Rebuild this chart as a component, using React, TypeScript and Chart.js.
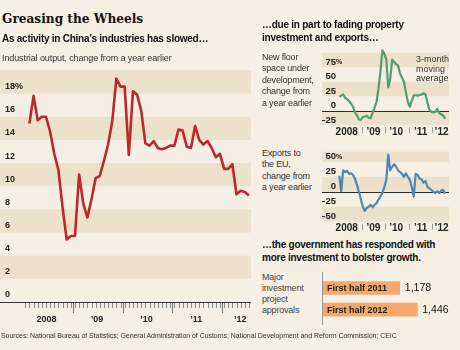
import React, { useEffect, useRef } from 'react';
import { Chart, registerables } from 'chart.js';

Chart.register(...registerables);

// ---------------- data ----------------
const yearLabels = ['2008', '\u201909', '\u201910', '\u201911', '\u201912'];
// month positions (months since Jan 2008) where the year labels sit
const leftYearAt = [5.6, 17.8, 29.8, 41.8, 52.4];
const rightYearAt = [4.3, 17.9, 29.5, 42, 52.7];
const yearBreaks = [12, 24, 36, 48];

// Industrial output, % change from a year earlier, Feb 2008 - Jul 2012
const outputFirstMonth = 1; // Feb 2008
const industrialOutput = [
  15.4, 17.8, 15.7, 16.0, 16.0, 14.7, 12.8, 11.4, 8.2, 5.4, 5.7,
  5.7, 11.0, 8.5, 7.3, 8.9, 10.7, 10.9, 12.2, 13.6, 15.6, 19.3, 18.6,
  18.6, 12.7, 18.2, 17.9, 16.5, 13.7, 13.5, 13.9, 13.3, 13.2, 13.3, 13.5,
  13.5, 14.9, 14.8, 13.4, 13.3, 15.2, 14.0, 13.6, 13.9, 13.3, 12.5, 12.8,
  11.5, 11.5, 11.9, 9.3, 9.6, 9.5, 9.2,
];
const outputTicks = [0, 2, 4, 6, 8, 10, 12, 14, 16, 18];
const outputBands = [[2, 4], [6, 8], [10, 12], [14, 16], [18, 20]];

// New floor space under development, 3-month moving average, Jan 2008 - Jul 2012
const floorSpace = [
  24, 26, 28, 22, 20, 17, 12, 7, -3, -8, -15, -16,
  -11, -10, -9, -12, -13, -4, 5, 15, 38, 67, 104, 98,
  88, 40, 55, 88, 84, 80, 78, 64, 57, 50, 32, 15,
  7, 17, 26, 27, 26, 27, 28, 30, 28, 14, 2, -2,
  -3, -2, 3, -4, -6, -8, -14,
];
const floorTicks = [-25, 0, 25, 50, 75];
const floorBands = [[-25, 0], [25, 50], [75, 100]];

// Exports to the EU, % change from a year earlier, Jan 2008 - Jul 2012
const euExports = [
  27, 1, 36, 33, 35, 30, 31, 28, 22, 12, 0, -12,
  -25, -32, -27, -25, -22, -26, -22, -19, -13, -8, -2, 8,
  20, 62, 36, 42, 46, 42, 36, 33, 30, 25, 31, 25,
  20, 8, -8, 30, 28, 22, 21, 15, 18, 8, 6, 3,
  0, -2, 1, -2, 2, 3, -3,
];
const euTicks = [-50, -25, 0, 25, 50];
const euBands = [[-50, -25], [0, 25], [50, 67]];

// Major investment project approvals
const projectLabels = ['First half 2011', 'First half 2012'];
const projectApprovals = [1178, 1446];

// ---------------- style ----------------
const NARROW = "'Liberation Sans Narrow', 'Arial Narrow', sans-serif";
const SERIF = "'DejaVu Serif Condensed', 'DejaVu Serif', serif";
const BG = '#f6f0e4';
const BAND = '#ece1ca';
const RED = '#c0262d';
const GREEN = '#579c6c';
const BLUE = '#4e86b4';
const ORANGE = '#f5a86b';
const INK = '#1e1e1e';

const fmt = (v: number) => (v < 0 ? '\u2013' + Math.abs(v) : String(v));

// ---------------- plugins ----------------
const bandsPlugin = {
  id: 'bands',
  beforeDraw(chart: any, _a: any, o: any) {
    if (!o || !o.ranges) return;
    const { ctx, chartArea } = chart;
    const y = chart.scales.y;
    const left = o.fromAxis ? y.left : chartArea.left;
    ctx.save();
    ctx.fillStyle = o.color;
    o.ranges.forEach((r: number[]) => {
      const top = y.getPixelForValue(r[1]);
      const bot = y.getPixelForValue(r[0]);
      ctx.fillRect(left, top, chartArea.right - left, bot - top);
    });
    ctx.restore();
  },
};

const timeAxisPlugin = {
  id: 'timeAxis',
  afterDraw(chart: any, _a: any, o: any) {
    if (!o || !o.labels) return;
    const { ctx, chartArea } = chart;
    const x = chart.scales.x;
    const b = chartArea.bottom;
    ctx.save();
    ctx.lineWidth = 1;
    if (o.axisColor) {
      ctx.strokeStyle = o.axisColor;
      ctx.beginPath();
      ctx.moveTo(chartArea.left, Math.round(b) + 0.5);
      ctx.lineTo(chartArea.right, Math.round(b) + 0.5);
      ctx.stroke();
    }
    const tick = (v: number, y0: number, y1: number, color: string) => {
      const px = Math.round(x.getPixelForValue(v)) + 0.5;
      ctx.strokeStyle = color;
      ctx.beginPath();
      ctx.moveTo(px, b + y0);
      ctx.lineTo(px, b + y1);
      ctx.stroke();
    };
    if (o.minorCount) {
      for (let m = 0; m < o.minorCount; m++) tick(m + 0.5, o.minorFrom, o.minorTo, o.minorColor);
    }
    (o.major || []).forEach((v: number) => tick(v, o.majorFrom, o.majorTo, o.majorColor));
    ctx.fillStyle = o.labelColor;
    ctx.font = o.labelFont;
    ctx.textAlign = 'center';
    ctx.textBaseline = 'middle';
    o.labels.forEach((t: string, i: number) => {
      ctx.fillText(t, x.getPixelForValue(o.labelAt[i]), b + o.labelDy);
    });
    ctx.restore();
  },
};

const zeroLinePlugin = {
  id: 'zeroLine',
  beforeDatasetsDraw(chart: any, _a: any, o: any) {
    if (!o || !o.color) return;
    const { ctx, chartArea } = chart;
    const y = chart.scales.y;
    const py = Math.round(y.getPixelForValue(0)) + 0.5;
    ctx.save();
    ctx.strokeStyle = o.color;
    ctx.lineWidth = 1;
    ctx.beginPath();
    ctx.moveTo(y.left, py);
    ctx.lineTo(chartArea.right, py);
    ctx.stroke();
    ctx.restore();
  },
};

const unitPlugin = {
  id: 'unit',
  afterDraw(chart: any, _a: any, o: any) {
    if (!o || !o.text) return;
    const { ctx } = chart;
    const y = chart.scales.y;
    ctx.save();
    ctx.font = o.font;
    ctx.fillStyle = o.color;
    ctx.textAlign = 'left';
    ctx.textBaseline = 'middle';
    ctx.fillText(o.text, y.right - o.padding, y.getPixelForValue(o.value) + o.offset);
    ctx.restore();
  },
};

const barLabelPlugin = {
  id: 'barLabels',
  afterDatasetsDraw(chart: any, _a: any, o: any) {
    if (!o || !o.valueFont) return;
    const { ctx, chartArea } = chart;
    const x = chart.scales.x;
    const y = chart.scales.y;
    const px = Math.round(x.getPixelForValue(0)) - 0.5;
    ctx.save();
    ctx.strokeStyle = o.axisColor;
    ctx.lineWidth = 1;
    ctx.beginPath();
    ctx.moveTo(px, chartArea.top - 5.5);
    ctx.lineTo(px, chartArea.bottom + 4.5);
    ctx.stroke();
    ctx.textAlign = 'left';
    ctx.textBaseline = 'middle';
    const meta = chart.getDatasetMeta(0);
    meta.data.forEach((el: any, i: number) => {
      const v = chart.data.datasets[0].data[i] as number;
      ctx.font = o.nameFont;
      ctx.fillStyle = o.nameColor;
      ctx.fillText(y.getLabelForValue(i), x.getPixelForValue(0) + o.inset, el.y + 0.5);
      ctx.font = o.valueFont;
      ctx.fillStyle = o.valueColor;
      ctx.fillText(v.toLocaleString('en-US'), el.x + o.gap, el.y + 0.5);
    });
    ctx.restore();
  },
};

const noLegend = { legend: { display: false }, tooltip: { enabled: false } };

function rightLineChart(
  canvas: HTMLCanvasElement,
  values: number[],
  color: string,
  ticks: number[],
  bands: number[][],
  min: number,
  max: number,
  pad: { top: number; bottom: number }
) {
  return new Chart(canvas, {
    type: 'line',
    data: {
      datasets: [
        {
          data: values.map((v, i) => ({ x: i + 0.5, y: v })),
          borderColor: color,
          borderWidth: 2.2,
          pointRadius: 0,
          tension: 0,
          borderJoinStyle: 'round',
          clip: false,
        } as any,
      ],
    },
    options: {
      responsive: false,
      animation: false,
      events: [],
      layout: { padding: { left: 4, right: 11, top: pad.top, bottom: pad.bottom } },
      plugins: {
        ...noLegend,
        bands: { ranges: bands, color: BAND, fromAxis: true },
        zeroLine: { color: '#2e2e2e' },
        unit: { text: '%', value: ticks[ticks.length - 1], padding: 1, offset: -5, color: '#222', font: `bold 7px ${NARROW}` },
        timeAxis: {
          major: yearBreaks,
          majorFrom: 2,
          majorTo: 8,
          majorColor: '#9a9a9a',
          labels: yearLabels,
          labelAt: rightYearAt,
          labelDy: 7,
          labelColor: '#222',
          labelFont: `bold 10px ${NARROW}`,
        },
      } as any,
      scales: {
        x: { type: 'linear', min: -0.66, max: 56.5, display: false },
        y: {
          min,
          max,
          afterFit: (s: any) => {
            s.width = 15;
          },
          afterBuildTicks: (s: any) => {
            s.ticks = ticks.map((v) => ({ value: v }));
          },
          grid: { display: false, drawTicks: false },
          border: { display: false },
          ticks: {
            padding: 1,
            labelOffset: -5,
            color: '#222',
            font: { family: NARROW, size: 9.5, weight: 'bold' },
            callback: (v: any) => fmt(Number(v)),
          },
        } as any,
      },
    },
    plugins: [bandsPlugin, zeroLinePlugin, unitPlugin, timeAxisPlugin],
  });
}

export default function App() {
  const leftRef = useRef<HTMLCanvasElement>(null);
  const floorRef = useRef<HTMLCanvasElement>(null);
  const euRef = useRef<HTMLCanvasElement>(null);
  const barRef = useRef<HTMLCanvasElement>(null);

  useEffect(() => {
    const charts: Chart[] = [];

    charts.push(
      new Chart(leftRef.current!, {
        type: 'line',
        data: {
          datasets: [
            {
              data: industrialOutput.map((v, i) => ({ x: outputFirstMonth + i + 0.5, y: v })),
              borderColor: RED,
              borderWidth: 2.6,
              pointRadius: 0,
              tension: 0,
              borderJoinStyle: 'round',
            } as any,
          ],
        },
        options: {
          responsive: false,
          animation: false,
          events: [],
          layout: { padding: { left: 0, right: 5, top: 9, bottom: 33 } },
          plugins: {
            ...noLegend,
            bands: { ranges: outputBands, color: BAND, fromAxis: false },
            timeAxis: {
              axisColor: '#333',
              minorCount: 55,
              minorFrom: 1,
              minorTo: 6,
              minorColor: '#8a8a8a',
              major: yearBreaks,
              majorFrom: 1,
              majorTo: 11,
              majorColor: '#777',
              labels: yearLabels,
              labelAt: leftYearAt,
              labelDy: 18,
              labelColor: '#222',
              labelFont: `bold 9px ${NARROW}`,
            },
          } as any,
          scales: {
            x: { type: 'linear', min: -5.6, max: 55, display: false },
            y: {
              min: 0,
              max: 20,
              afterFit: (s: any) => {
                s.width = 0;
              },
              afterBuildTicks: (s: any) => {
                s.ticks = outputTicks.map((v) => ({ value: v }));
              },
              grid: { display: false, drawTicks: false },
              border: { display: false },
              ticks: {
                mirror: true,
                padding: 5,
                labelOffset: -7,
                color: '#222',
                font: { family: NARROW, size: 9, weight: 'bold' },
                callback: (v: any) => (Number(v) === outputTicks[outputTicks.length - 1] ? v + '%' : String(v)),
              },
            } as any,
          },
        },
        plugins: [bandsPlugin, timeAxisPlugin],
      })
    );

    charts.push(
      rightLineChart(floorRef.current!, floorSpace, GREEN, floorTicks, floorBands, -25, 100, { top: 7.7, bottom: 14.8 })
    );
    charts.push(
      rightLineChart(euRef.current!, euExports, BLUE, euTicks, euBands, -50, 67, { top: 11.7, bottom: 13.3 })
    );

    charts.push(
      new Chart(barRef.current!, {
        type: 'bar',
        data: {
          labels: projectLabels,
          datasets: [{ data: projectApprovals, backgroundColor: ORANGE, borderWidth: 0, barThickness: 13 } as any],
        },
        options: {
          indexAxis: 'y',
          responsive: false,
          animation: false,
          events: [],
          layout: { padding: { left: 5, right: 6.6, top: 12.2, bottom: 9.5 } },
          plugins: {
            ...noLegend,
            barLabels: {
              valueFont: `10.5px ${NARROW}`,
              valueColor: '#111',
              gap: 5,
              nameFont: `bold 9px ${NARROW}`,
              nameColor: '#222',
              inset: 4,
              axisColor: '#9a9a9a',
            },
          } as any,
          scales: {
            x: { min: 0, max: 2000, display: false },
            y: { display: false },
          },
        },
        plugins: [barLabelPlugin],
      })
    );

    return () => charts.forEach((c) => c.destroy());
  }, []);

  const abs = (left: number, top: number, extra: React.CSSProperties = {}): React.CSSProperties => ({
    position: 'absolute',
    left,
    top,
    whiteSpace: 'nowrap',
    margin: 0,
    ...extra,
  });
  const canvasStyle = (left: number, top: number, w: number, h: number): React.CSSProperties => ({
    position: 'absolute',
    left,
    top,
    width: w,
    height: h,
  });
  const head: React.CSSProperties = { fontWeight: 'bold', fontSize: 10, lineHeight: '13px', letterSpacing: '-0.25px', color: '#111' };
  const note: React.CSSProperties = { fontSize: 9, letterSpacing: '-0.2px', color: '#333' };

  return (
    <div
      style={{
        position: 'fixed',
        left: 0,
        top: 0,
        width: 460,
        height: 350,
        background: BG,
        overflow: 'hidden',
        fontFamily: NARROW,
        color: INK,
      }}
    >
      <canvas ref={leftRef} width={256} height={275} style={canvasStyle(0, 60, 256, 275)} />
      <canvas ref={floorRef} width={142} height={95} style={canvasStyle(318, 45, 142, 95)} />
      <canvas ref={euRef} width={142} height={95} style={canvasStyle(318, 140, 142, 95)} />
      <canvas ref={barRef} width={142} height={65} style={canvasStyle(318, 265, 142, 65)} />

      <div style={abs(2, 10.2, { fontFamily: SERIF, fontWeight: 'bold', fontSize: 13.5, lineHeight: '17px', fontStretch: 'condensed', color: '#111' })}>
        Greasing the Wheels
      </div>
      <div style={abs(2, 31.5, { ...head, lineHeight: '13px' })}>As activity in China’s industries has slowed…</div>
      <div style={abs(2, 51.5, { ...note, lineHeight: '12px', letterSpacing: '-0.1px' })}>
        Industrial output, change from a year earlier
      </div>

      <div style={abs(262, 18.4, head)}>
        …due in part to fading property
        <br />
        investment and exports…
      </div>
      <div style={abs(262, 51.5, { ...note, lineHeight: '11.5px' })}>
        New floor
        <br />
        space under
        <br />
        development,
        <br />
        change from
        <br />a year earlier
      </div>
      <div style={abs(416, 55, { fontSize: 9, lineHeight: '9.7px', color: '#333' })}>
        3-month
        <br />
        moving
        <br />
        average
      </div>
      <div style={abs(262, 148, { ...note, lineHeight: '11.3px' })}>
        Exports to
        <br />
        the EU,
        <br />
        change from
        <br />a year earlier
      </div>
      <div style={abs(262, 237.9, head)}>
        …the government has responded with
        <br />
        more investment to bolster growth.
      </div>
      <div style={abs(262, 271.5, { ...note, lineHeight: '11px', color: '#444' })}>
        Major
        <br />
        investment
        <br />
        project
        <br />
        approvals
      </div>
      <div style={abs(1, 330.5, { fontSize: 7, lineHeight: '9px', letterSpacing: '-0.05px', color: '#333' })}>
        Sources: National Bureau of Statistics; General Administration of Customs; National Development and Reform
        Commission; CEIC
      </div>
    </div>
  );
}
